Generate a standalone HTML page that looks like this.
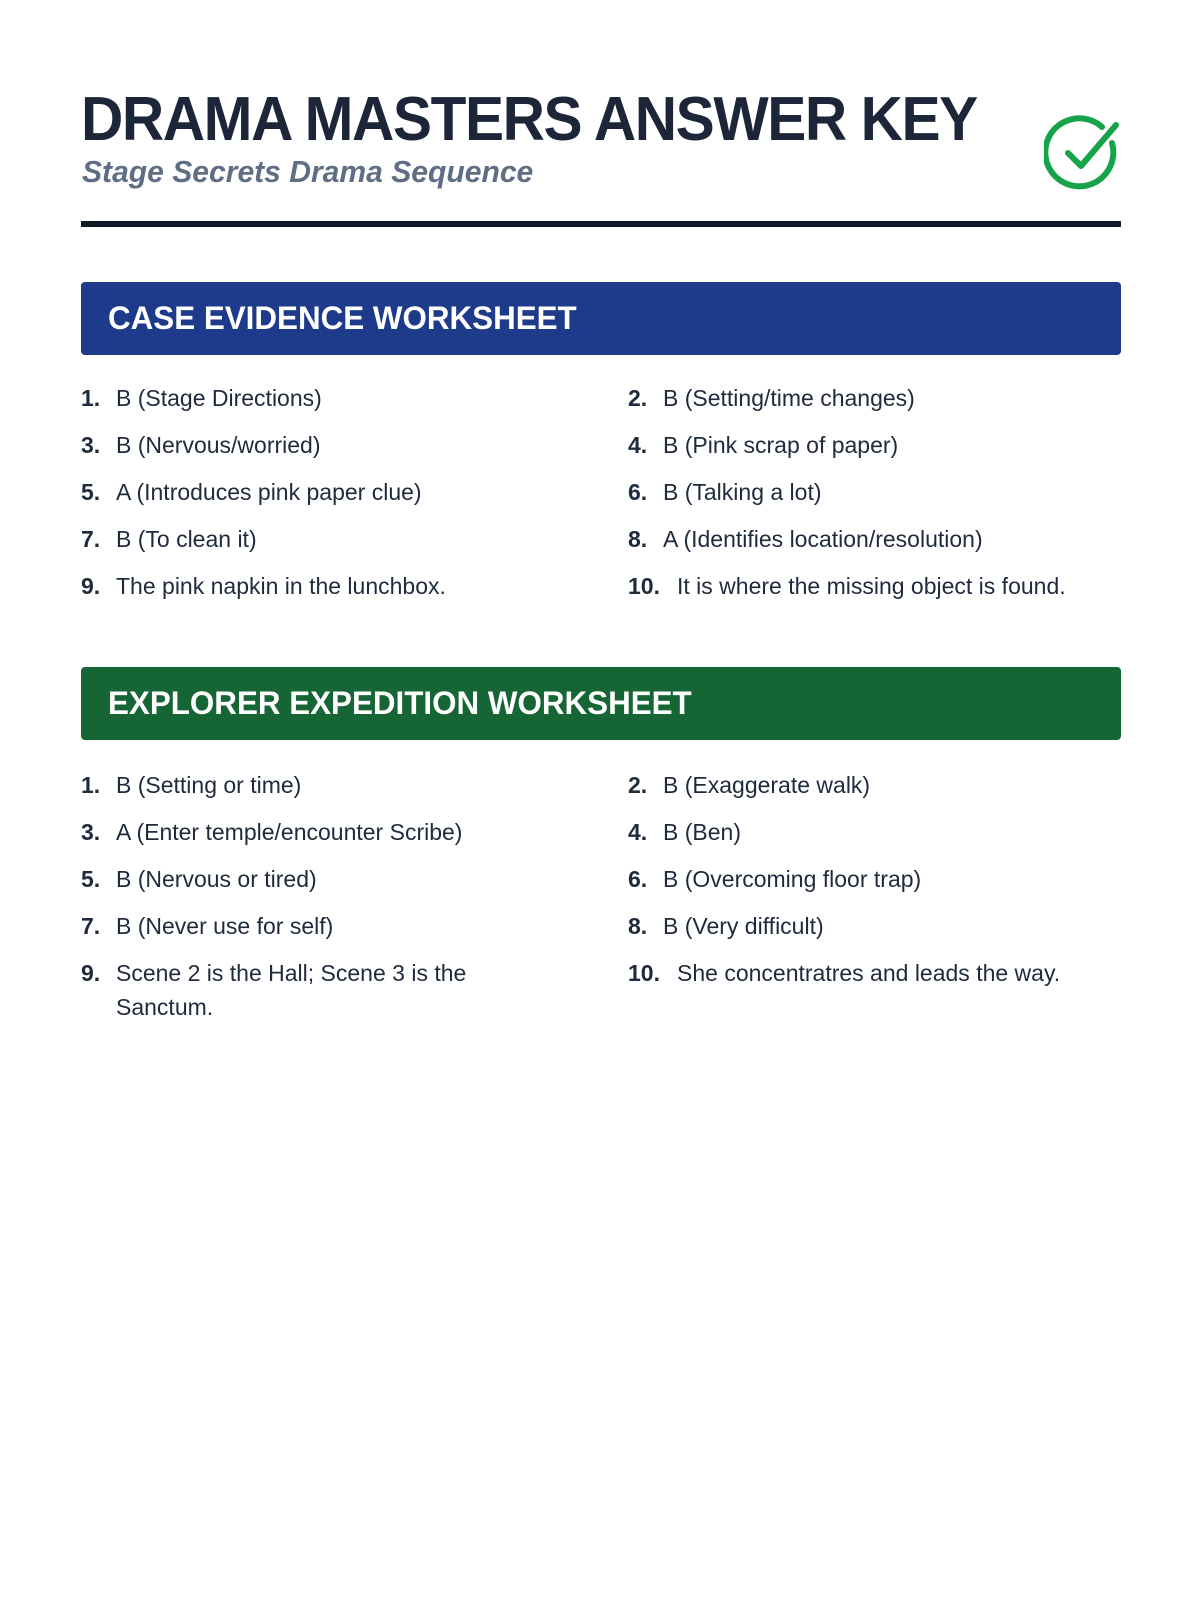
<!DOCTYPE html>
<html><head><meta charset="utf-8"><style>
html,body{margin:0;padding:0;background:#fff;}
body{width:1200px;height:1600px;position:relative;font-family:"Liberation Sans",sans-serif;color:#1f2a3c;overflow:hidden;}
.title{position:absolute;left:81px;top:84px;font-size:62px;font-weight:bold;color:#1c2638;letter-spacing:-1.5px;white-space:nowrap;transform:scaleX(0.945);transform-origin:left;}
.sub{position:absolute;left:82px;top:154px;font-size:31px;font-weight:bold;font-style:italic;color:#5f6e84;white-space:nowrap;transform:scaleX(0.97);transform-origin:left;}
.rule{position:absolute;left:81px;top:221px;width:1040px;height:6px;background:#0f172a;}
.bar{position:absolute;left:81px;width:1040px;height:73px;border-radius:4px;color:#fff;font-weight:bold;font-size:32px;box-sizing:border-box;padding-left:27px;line-height:73px;}
.bar span{display:inline-block;transform:scaleX(0.98);transform-origin:left;}
.item{position:absolute;font-size:23px;white-space:nowrap;line-height:34px;}
.item b{display:inline-block;width:35px;}
.item.w b{width:49px;}
</style></head><body>
<div class="title">DRAMA MASTERS ANSWER KEY</div>
<div class="sub">Stage Secrets Drama Sequence</div>
<svg style="position:absolute;left:1044px;top:115px" width="80" height="80" viewBox="0 0 80 80">
<path d="M68 28 A34 34 0 1 1 58 12" fill="none" stroke="#16a34a" stroke-width="6" stroke-linecap="round"/>
<path d="M24 38 L37 51 L72 10" fill="none" stroke="#16a34a" stroke-width="6" stroke-linecap="round" stroke-linejoin="round"/>
</svg>
<div class="rule"></div>

<div class="bar" style="top:282px;background:#1e3a8a"><span>CASE EVIDENCE WORKSHEET</span></div>
<div class="item" style="left:81px;top:381px"><b>1.</b>B (Stage Directions)</div>
<div class="item" style="left:628px;top:381px"><b>2.</b>B (Setting/time changes)</div>
<div class="item" style="left:81px;top:428px"><b>3.</b>B (Nervous/worried)</div>
<div class="item" style="left:628px;top:428px"><b>4.</b>B (Pink scrap of paper)</div>
<div class="item" style="left:81px;top:475px"><b>5.</b>A (Introduces pink paper clue)</div>
<div class="item" style="left:628px;top:475px"><b>6.</b>B (Talking a lot)</div>
<div class="item" style="left:81px;top:522px"><b>7.</b>B (To clean it)</div>
<div class="item" style="left:628px;top:522px"><b>8.</b>A (Identifies location/resolution)</div>
<div class="item" style="left:81px;top:569px"><b>9.</b>The pink napkin in the lunchbox.</div>
<div class="item w" style="left:628px;top:569px"><b>10.</b>It is where the missing object is found.</div>

<div class="bar" style="top:667px;background:#166534"><span>EXPLORER EXPEDITION WORKSHEET</span></div>
<div class="item" style="left:81px;top:768px"><b>1.</b>B (Setting or time)</div>
<div class="item" style="left:628px;top:768px"><b>2.</b>B (Exaggerate walk)</div>
<div class="item" style="left:81px;top:815px"><b>3.</b>A (Enter temple/encounter Scribe)</div>
<div class="item" style="left:628px;top:815px"><b>4.</b>B (Ben)</div>
<div class="item" style="left:81px;top:862px"><b>5.</b>B (Nervous or tired)</div>
<div class="item" style="left:628px;top:862px"><b>6.</b>B (Overcoming floor trap)</div>
<div class="item" style="left:81px;top:909px"><b>7.</b>B (Never use for self)</div>
<div class="item" style="left:628px;top:909px"><b>8.</b>B (Very difficult)</div>
<div class="item" style="left:81px;top:956px"><b>9.</b>Scene 2 is the Hall; Scene 3 is the<br><span style="padding-left:35px">Sanctum.</span></div>
<div class="item w" style="left:628px;top:956px"><b>10.</b>She concentratres and leads the way.</div>
</body></html>
